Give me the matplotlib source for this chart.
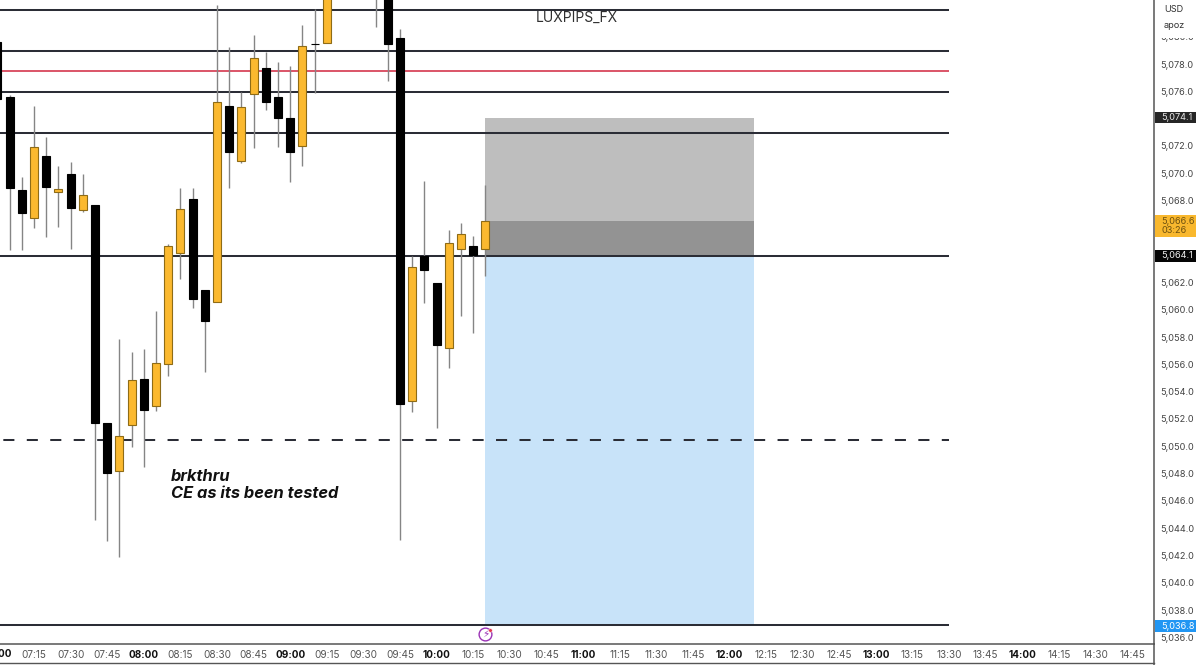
import matplotlib
matplotlib.use("Agg")
import matplotlib.pyplot as plt
from matplotlib.patches import Rectangle
from matplotlib.transforms import blended_transform_factory

plt.rcParams['font.family'] = ['Inter', 'DejaVu Sans']

times = ["07:00","07:05","07:10","07:15","07:20","07:25","07:30","07:35","07:40","07:45","07:50","07:55",
         "08:00","08:05","08:10","08:15","08:20","08:25","08:30","08:35","08:40","08:45","08:50","08:55",
         "09:00","09:05","09:10","09:15","09:35","09:40","09:45","09:50","09:55",
         "10:00","10:05","10:10","10:15","10:20"]
opens = [5079.61,5075.58,5068.77,5066.72,5071.26,5068.66,5069.94,5067.31,5067.67,5051.70,5048.18,5051.55,
         5054.92,5052.95,5056.02,5064.15,5068.11,5061.44,5060.57,5074.92,5070.89,5075.80,5077.71,5075.58,
         5074.05,5071.99,5079.50,5079.54,5086.00,5085.00,5079.91,5053.31,5063.94,
         5061.96,5057.20,5064.45,5064.67,5064.45]
closes = [5075.44,5068.92,5067.09,5071.92,5068.99,5068.88,5067.45,5068.40,5051.70,5048.04,5050.75,5054.85,
          5052.65,5056.10,5064.67,5067.38,5060.79,5059.17,5075.22,5071.55,5074.85,5078.44,5075.22,5074.05,
          5071.55,5079.32,5079.43,5084.00,5083.50,5079.47,5053.09,5063.13,5062.91,
          5057.42,5064.89,5065.55,5064.01,5066.50]
highs = [5079.61,5075.73,5069.72,5074.92,5072.65,5070.53,5070.82,5069.94,5067.67,5051.70,5057.85,5056.90,
         5057.12,5059.91,5064.81,5068.92,5068.92,5061.44,5082.32,5079.25,5075.95,5080.13,5078.88,5078.15,
         5077.85,5080.86,5082.03,5085.00,5086.50,5085.00,5080.57,5063.94,5069.43,
         5061.96,5065.84,5066.35,5065.40,5069.14]
lows = [5075.44,5064.37,5064.37,5065.99,5065.33,5066.06,5064.45,5067.16,5044.59,5043.06,5041.88,5049.94,
        5048.48,5052.58,5055.14,5062.25,5060.13,5055.44,5060.57,5068.92,5070.75,5071.85,5074.63,5071.92,
        5069.36,5070.53,5075.88,5079.54,5080.71,5076.76,5043.13,5052.51,5060.49,
        5051.34,5055.73,5059.54,5058.29,5062.47]

solid_levels = [5081.99, 5078.99, 5075.95, 5072.95, 5063.94, 5036.90]
red_level = 5077.49
dashed_level = 5050.46
level_end = "13:30"

box_start = "10:20"
box_end = "12:10"
stop_top = 5074.05
entry_fill = 5066.50
entry = 5063.94
target = 5036.85

price_ticks = [5080, 5078, 5076, 5072, 5070, 5068, 5062, 5060, 5058, 5056, 5054, 5052, 5050,
               5048, 5046, 5044, 5042, 5040, 5038, 5036]
first_time_label = "07:00"
time_labels = ["07:15","07:30","07:45","08:00","08:15","08:30","08:45","09:00","09:15","09:30","09:45",
               "10:00","10:15","10:30","10:45","11:00","11:15","11:30","11:45","12:00","12:15","12:30","12:45",
               "13:00","13:15","13:30","13:45","14:00","14:15","14:30","14:45"]

GOLD = "#fbb92f"
GOLD_EDGE = "#8f6c16"
LINE = "#2b2d36"
T0, T1 = 421.07, 894.0


def minutes(s):
    h, m = s.split(":")
    return int(h) * 60 + int(m)


x = [minutes(t) for t in times]

fig = plt.figure(figsize=(12, 6.65), dpi=100, facecolor="white")
ax = fig.add_axes([0, 21 / 665, 1154 / 1200, 644 / 665])

# position box
x0, x1 = minutes(box_start), minutes(box_end)
ax.add_patch(Rectangle((x0, entry_fill), x1 - x0, stop_top - entry_fill, fc="#bebebe", ec="none", zorder=1))
ax.add_patch(Rectangle((x0, entry), x1 - x0, entry_fill - entry, fc="#939393", ec="none", zorder=1))
ax.add_patch(Rectangle((x0, target), x1 - x0, entry - target, fc="#c8e3f9", ec="none", zorder=1))

# levels
xl0, xl1 = T0, minutes(level_end)
ax.hlines(solid_levels, xl0, xl1, colors=LINE, lw=1.45, zorder=2)
ax.hlines([red_level], xl0, xl1, colors="#d8475c", lw=1.3, zorder=2)
ax.plot([xl0, xl1], [dashed_level] * 2, color=LINE, lw=1.45, zorder=2,
        linestyle=(10, (5.5, 6.15)), dash_capstyle="butt")

# candles
ax.vlines(x, lows, highs, colors="#858585", lw=1.0, zorder=3)
for xi, o, c in zip(x, opens, closes):
    up = c >= o
    ax.bar(xi, abs(c - o), bottom=min(o, c), width=3.35,
           color=GOLD if up else "#000000",
           edgecolor=GOLD_EDGE if up else "#000000", linewidth=0.8, zorder=4)

# axes
for side in ("top", "left"):
    ax.spines[side].set_visible(False)
for side in ("right", "bottom"):
    ax.spines[side].set_color("#555555")
    ax.spines[side].set_linewidth(1.1)

ax.set_xticks([minutes(t) for t in time_labels])
ax.set_xticklabels(time_labels)
for lab in ax.get_xticklabels():
    if lab.get_text().endswith(":00"):
        lab.set_fontweight("bold")
        lab.set_color("#111111")
    else:
        lab.set_color("#555555")
ax.tick_params(axis="x", length=0, pad=4.5, labelsize=7.2)

ax.yaxis.tick_right()
ax.set_yticks(price_ticks)
ax.set_yticklabels([f"{p:,.1f}" for p in price_ticks])
ax.tick_params(axis="y", length=0, pad=4.5, labelsize=6.6, labelcolor="#444444")

ax.set_xlim(T0, T1)
ax.set_ylim(5035.51, 5082.69)

tr = blended_transform_factory(ax.transAxes, ax.transData)
trx = blended_transform_factory(ax.transData, ax.transAxes)

# the first hour label, cut by the left edge of the picture
ax.text(minutes(first_time_label), -10 / 644, first_time_label, transform=trx, fontsize=7.2, fontweight="bold",
        color="#111111", ha="center", va="center", clip_on=False)

# text on chart
ax.text(536 / 1154, 5081.40, "LUXPIPS_FX", transform=tr, fontsize=10.0, color="#303030",
        va="center", ha="left", zorder=6)
ax.text(171 / 1154, 5047.13, "brkthru\nCE as its been tested", transform=tr, fontsize=11.8, fontweight="bold",
        fontstyle="italic", color="#111111", va="center", ha="left", linespacing=1.15, zorder=6)

# alert icon
icon_t = minutes(box_start)
icon_p = 5036.24
ax.plot([icon_t], [icon_p], "o", ms=9.2, mfc="white", mec="#9a32b5", mew=1.0, zorder=6, clip_on=False)
ax.text(icon_t, icon_p, "\u26a1", fontsize=7.5, color="#9a32b5", ha="center", va="center", zorder=7,
        family=["DejaVu Sans"])
ax.plot([icon_t + 1.8], [icon_p + 0.33], "o", ms=2.6, mfc="#e53950", mec="white", mew=0.3, zorder=8, clip_on=False)

# right-hand price tags
xa = 1155 / 1154
wa = 41 / 1154
xt = 1161 / 1154


def tag(center, half_height, color, lines, txt_color):
    ax.add_patch(Rectangle((xa, center - half_height), wa, 2 * half_height, transform=tr,
                           fc=color, ec="none", clip_on=False, zorder=9))
    ax.text(xt, center, lines, transform=tr, color=txt_color, fontsize=6.6, va="center", ha="left",
            linespacing=1.05, zorder=10, clip_on=False)


tag(5074.08, 0.42, "#262626", "5,074.1", "#e8e8e8")
tag(5066.12, 0.82, "#f9b82e", "5,066.6\n03:26", "#6e5110")
tag(5063.94, 0.42, "#050505", "5,064.1", "#f0f0f0")
tag(5036.82, 0.42, "#2196f3", "5,036.8", "#ffffff")

# cover the top of the price scale
ax.add_patch(Rectangle((xa, 5079.93), 45 / 1154, 3, transform=tr, fc="white", ec="none", clip_on=False, zorder=9))
ax.text(1164 / 1154, 5082.03, "USD", transform=tr, fontsize=6.6, color="#333333", va="center", ha="left",
        zorder=10, clip_on=False)
ax.text(1164 / 1154, 5080.80, "apoz", transform=tr, fontsize=6.6, color="#333333", va="center", ha="left",
        zorder=10, clip_on=False)

# lower frame of the time scale
fig.add_artist(plt.Line2D([0, 1154 / 1200], [2 / 665, 2 / 665], color="#555555", lw=1.0))
fig.add_artist(plt.Line2D([1154 / 1200, 1154 / 1200], [0, 21 / 665], color="#555555", lw=1.1))

fig.savefig("out.png", dpi=100, facecolor="white")
